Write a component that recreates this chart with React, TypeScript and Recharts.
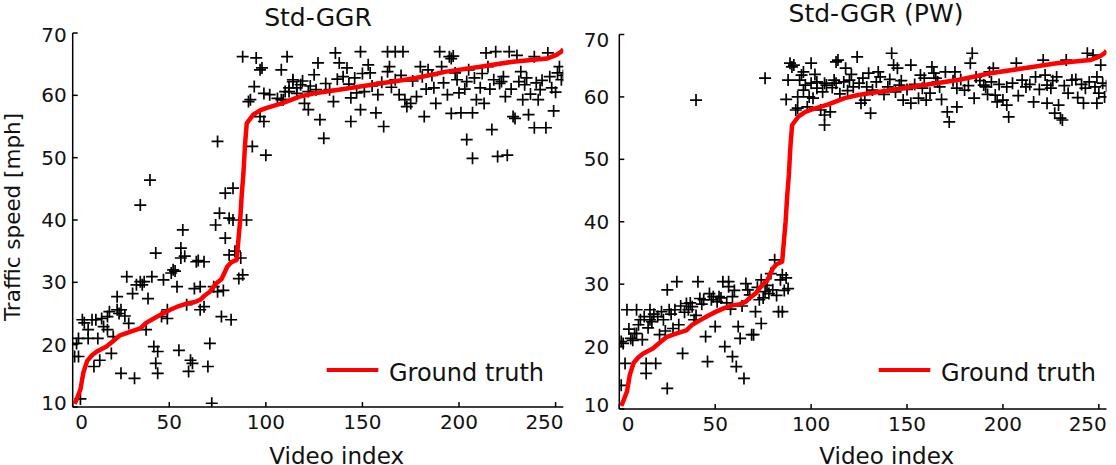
import React from 'react';
import { ComposedChart, Scatter, XAxis, YAxis, Legend, Label } from 'recharts';

// Axis setup shared by both panels
const X_TICKS = [0, 50, 100, 150, 200, 250];
const Y_TICKS = [10, 20, 30, 40, 50, 60, 70];
const X_DOMAIN: [number, number] = [0, 254];
const Y_DOMAIN: [number, number] = [10, 70];

// Sorted ground-truth speeds, [video index, mph]
const GROUND_TRUTH: [number, number][] = [
  [1, 10.5], [2, 11.2], [4, 12.8], [5.5, 15.5], [7.5, 17.4], [10, 18.3], [12.5, 18.9],
  [17.5, 19.7], [21, 20.6], [24.5, 21.5], [30, 22.1], [35, 22.6], [38, 23.5], [42, 24.2],
  [46, 24.9], [50.5, 25.6], [55, 26.2], [59, 26.6], [63, 26.8], [66, 27.2], [68, 27.8],
  [71, 28.5], [74.5, 29.9], [77, 30.5], [80, 32.5], [82, 33.2], [84.9, 33.6], [85.8, 36.8],
  [86.7, 40], [87.5, 44], [88.4, 47.5], [89.2, 52], [90.1, 55.5], [93.5, 56.9], [97, 57.6],
  [100.5, 58], [109, 58.8], [117.5, 59.8], [124.5, 60.3], [142, 61.1], [159, 61.9],
  [176.5, 62.7], [193.5, 63.8], [211, 64.6], [228, 65.4], [245.5, 65.9], [250.5, 66.5],
  [253, 67], [254, 67.4],
];

// Std-GGR estimates, [video index, mph]
const STD_GGR: [number, number][] = [
  [1, 18.1], [3, 18.1], [2, 20.2], [3, 21], [4, 11.3], [5, 24], [6, 23.5], [8, 21], [10, 24],
  [8, 22.4], [12, 24], [13, 21], [11, 16.5], [14, 17.5], [15, 24.2], [16, 22.9], [18, 22.4],
  [18, 24.5], [19, 25.3], [20, 18.6], [21, 21.3], [23, 27.7], [23, 25.6], [24, 25], [25, 25.6],
  [25, 15.4], [27, 24.6], [28, 30.9], [29, 23.4], [31, 28.2], [32, 14.6], [33, 29.6],
  [35, 30.1], [36, 29.6], [37, 30.1], [39, 27.4], [38, 22.4], [41, 30.9], [42, 19.7],
  [43, 34.7], [44, 18.9], [43, 17], [44, 15.4], [46, 24.5], [47, 30.4], [49, 25.6],
  [49, 24.2], [51, 31.5], [52, 32], [53, 31.8], [54, 29.3], [55, 19.1], [56, 35.5],
  [56, 33.9], [57, 38.4], [58, 34.2], [59, 26.4], [61, 17.5], [60, 15.7], [62, 17],
  [63, 29], [64, 33.3], [65, 33.5], [66, 25.6], [68, 33.3], [66, 29.3], [68, 26.1],
  [70, 16.5], [71, 20.2], [72, 10.6], [73, 29.3], [75, 28.5], [77, 24.5], [78, 28.7],
  [79, 37.1], [74, 39.2], [81, 34.4], [82, 24], [83, 40], [84, 35], [86, 30.6], [88, 31.2],
  [87, 33.9], [90, 40],
  [35, 42.4], [40, 46.4], [76, 41.1], [79, 44.3], [83, 45.1], [81, 40.3], [75, 52.6],
  [93, 51.8], [100, 50.4], [99, 55.8], [97, 56.6], [91, 59], [92, 59.3], [94, 61.4],
  [99, 60.3], [102, 60.1], [106, 59.5], [108, 59.3], [88, 66.2], [95, 66], [97, 64.1],
  [98, 64.4], [108, 64.1], [111, 66.2], [114, 62.2], [112, 60.6], [116, 61.2], [110, 60.6],
  [109, 59.3], [114, 62.5], [112, 61.2], [118, 61.7], [116, 60.3], [122, 60.6], [122, 57.7],
  [120, 58.7], [125, 63.3], [127, 65.2], [128, 56.1], [130, 53.1], [131, 61.9], [135, 59],
  [136, 66.8], [138, 65.2], [140, 63], [142, 64.4], [144, 55.8], [144, 59.6], [146, 62.8],
  [149, 67], [149, 57.7], [151, 60.6], [153, 64.9], [154, 63.6], [157, 57.2], [158, 60.1],
  [161, 55], [163, 63.8], [164, 64.6], [167, 62.5], [163, 67], [167, 67], [171, 67],
  [169, 60.1], [172, 59.3], [175, 58.7], [173, 58.2], [178, 59.8], [180, 64.6], [181, 63],
  [182, 56.6], [184, 64.1], [187, 61.2], [188, 58.7], [190, 67], [191, 64.6], [194, 60.1],
  [195, 66.2], [196, 65.9], [197, 66.3], [196, 57.1], [199, 62.5], [201, 57.2], [204, 52.9],
  [204, 62.2], [205, 64.1], [207, 49.9], [207, 57.2], [209, 59.3], [211, 61.2], [213, 58.7],
  [214, 66.8], [215, 64.6], [217, 54.5], [219, 67], [218, 62.5], [220, 50.2], [221, 61.9],
  [224, 59.8], [223, 63], [225, 50.4], [226, 67], [228, 56.6], [229, 56.3], [230, 66.4],
  [231, 62.2], [233, 59.3], [234, 61.7], [236, 56.9], [239, 54.8], [239, 66.2], [241, 59.3],
  [242, 60.9], [245, 54.8], [246, 66.8], [249, 57.5], [251, 63.6], [252, 64.6], [253, 62.5],
  [247, 63],
  [119, 62.3], [123, 61.5], [126, 60.9], [133, 60.9], [137, 62.6], [143, 61.8], [147, 60.4],
  [150, 63.5], [155, 61.5], [160, 62.1], [165, 61.3], [170, 63.2], [176, 62.3], [183, 61],
  [186, 63.2], [192, 62], [198, 63.6], [200, 60.4], [203, 61], [208, 62.8], [212, 63.5],
  [216, 61], [222, 62.2], [227, 61], [232, 63.8], [235, 62.8], [237, 60.2], [240, 62],
  [243, 62.4], [248, 61.2], [250, 60.5], [254, 63.2],
];

// Std-GGR (PW) estimates, [video index, mph]
const STD_GGR_PW: [number, number][] = [
  [1, 13.8], [1, 20.8], [2, 20.5], [3, 17.3], [4, 25.9], [5, 22.8], [6, 21.3], [7, 21],
  [9, 25.9], [8, 22.1], [9, 22.1], [10, 23.5], [11, 24.3], [12, 21.1], [13, 24.8], [14, 17.3],
  [14, 15.7], [15, 23], [16, 25.9], [16, 24.3], [17, 24], [18, 25.2], [19, 17.3], [20, 24.8],
  [21, 21.9], [22, 25.6], [23, 24.3], [24, 22.5], [25, 13.3], [25, 29.1], [26, 25.9],
  [27, 25.2], [28, 22.9], [29, 25.9], [30, 30.4], [31, 23.5], [32, 26.5], [33, 18.9],
  [34, 25.5], [35, 26.9], [36, 25.9], [37, 27], [38, 26.4], [39, 24.3], [40, 25], [41, 30.4],
  [42, 27.7], [43, 26.8], [44, 27.5], [45, 21.6], [46, 17.6], [47, 28.5], [48, 27.5],
  [49, 28], [50, 23.2], [51, 27.2], [52, 28], [53, 27.8], [54, 30.4], [55, 20], [56, 27],
  [57, 30.4], [57, 29.6], [58, 26], [59, 28], [59, 18.4], [60, 29], [61, 16.8], [62, 23.2],
  [63, 21.3], [64, 26.5], [65, 14.9], [66, 30.1], [67, 29.1], [68, 28.3], [69, 21.9],
  [70, 21.9], [71, 25.6], [72, 29.5], [73, 27.5], [74, 30.7], [74, 23.7], [75, 27.8],
  [76, 28.8], [77, 29.8], [78, 28.5], [79, 31.7], [80, 29.1], [81, 33.9], [82, 28.2],
  [83, 25.6], [85, 25.6], [84, 30.7], [85, 31.5], [86, 29], [87, 31], [88, 29.3],
  [40, 59.5], [76, 63], [89, 65.4], [90, 64.8], [91, 65.1], [96, 64], [100, 65.4], [88, 62.7],
  [94, 62.7], [97, 61.9], [100, 62.2], [103, 62.4], [107, 62.2], [108, 61.9], [113, 62.2],
  [113, 65.6], [87, 59.6], [93, 60], [99, 60], [93, 58.2], [92, 57.9], [98, 58.4],
  [105, 57.9], [110, 57.6], [107, 57.1], [107, 55.5], [103, 61.4], [96, 61.1], [101, 59.8],
  [114, 65.9], [118, 64.6], [124, 66.4], [112, 62.7], [117, 62.4], [120, 62.7], [122, 61.6],
  [127, 63], [129, 61.6], [126, 59], [131, 57.4], [128, 59.5], [135, 64], [136, 63.2],
  [132, 61.1], [140, 61.6], [142, 67], [143, 65.1], [145, 64.6], [146, 61.9], [148, 59.5],
  [152, 65.1], [152, 59], [156, 59.8], [157, 63.5], [159, 63], [160, 59.5], [163, 64.8],
  [164, 63.8], [165, 63], [167, 61.6], [170, 64], [171, 57.6], [172, 56], [176, 58.4],
  [175, 64], [176, 61.4], [180, 61.1], [183, 65.4], [184, 67], [186, 63.2], [185, 59.8],
  [190, 61.9], [191, 61.6], [193, 64], [195, 64.6], [196, 60.3], [197, 59.2], [200, 59.5],
  [202, 58.7], [203, 56.8], [202, 61.6], [207, 65.4], [210, 62.7], [212, 61.6], [216, 59.2],
  [217, 63.2], [221, 65.9], [223, 61.9], [223, 59], [225, 61.4], [228, 63.2], [229, 58.7],
  [227, 57.4], [230, 56.6], [231, 56.3], [233, 65.9], [234, 60.6], [236, 62.7], [239, 59.9],
  [242, 59], [243, 61.4], [244, 67], [247, 66.7], [249, 63.2], [249, 59], [250, 60.6],
  [251, 65.1], [252, 62.2], [253, 60],
  [95, 63.5], [102, 63.6], [106, 60.8], [111, 61.5], [115, 60.5], [119, 61], [121, 63.6],
  [125, 62.2], [130, 63.8], [134, 62.4], [138, 60.4], [141, 62.8], [144, 60.8], [147, 62.6],
  [150, 61.2], [154, 62], [158, 61.4], [162, 60.6], [166, 62.4], [168, 59.6], [174, 62.6],
  [178, 62.8], [182, 61.8], [188, 62.6], [192, 60.4], [194, 62.4], [198, 62], [205, 62.2],
  [208, 60.2], [214, 62], [219, 61.2], [222, 63.5], [226, 62.6], [232, 61.8], [238, 62.8],
  [241, 62], [245, 62.4], [248, 61.6], [254, 61.8],
];

const FONT = "'DejaVu Sans', sans-serif";
const INK = '#111';
const RED = '#ff0000';

const toPoints = (pairs: [number, number][]) => pairs.map(([x, y]) => ({ x, y }));
const TRUTH_POINTS = toPoints(GROUND_TRUTH);

// "+" marker for estimated speeds
function Plus(props: any) {
  const { cx, cy } = props;
  if (cx == null || cy == null) return <g />;
  return (
    <path
      d={`M${cx - 6},${cy}H${cx + 6}M${cx},${cy - 6}V${cy + 6}`}
      stroke="#000"
      strokeWidth={1.7}
      fill="none"
    />
  );
}

const NoDot = () => <g />;

const axisStroke = { stroke: '#000', strokeWidth: 1.5 };

// Bottom tick labels: the end labels are kept inside the axis span
function XTick(props: any) {
  const { x, y, payload } = props;
  const v = payload.value;
  let anchor: 'start' | 'middle' | 'end' = 'middle';
  let tx = x;
  if (v === X_TICKS[0]) {
    anchor = 'start';
    tx = x + 2.5;
  } else if (v === X_TICKS[X_TICKS.length - 1]) {
    anchor = 'end';
    tx = x + 8;
  }
  return (
    <text x={tx} y={y} dy="0.71em" textAnchor={anchor} fontFamily={FONT} fontSize={20} fill={INK}>
      {v}
    </text>
  );
}

// Left tick labels: the end labels are nudged inside the axis span
function makeYTick(topShift: number, bottomShift: number) {
  return function YTick(props: any) {
    const { x, y, payload } = props;
    const v = payload.value;
    let shift = 0;
    if (v === Y_TICKS[0]) shift = bottomShift;
    else if (v === Y_TICKS[Y_TICKS.length - 1]) shift = topShift;
    return (
      <text x={x} y={y + shift} dy="0.355em" textAnchor="end" fontFamily={FONT} fontSize={20} fill={INK}>
        {v}
      </text>
    );
  };
}

type PanelProps = {
  title: string;
  estimates: [number, number][];
  left: number;
  width: number;
  margin: { top: number; right: number; bottom: number; left: number };
  yAxisWidth: number;
  xAxisHeight: number;
  yTickMargin: number;
  yTopShift: number;
  yBottomShift: number;
  titleX: number;
  titleY: number;
  xLabelDx: number;
  legendLeft: number;
  showYLabel: boolean;
};

function LegendBox() {
  return (
    <svg width={240} height={40} style={{ display: 'block', overflow: 'visible' }}>
      <line x1={0.7} x2={52.3} y1={18} y2={18} stroke={RED} strokeWidth={4} />
      <text x={63} y={29} fontFamily={FONT} fontSize={24} fill={INK}>
        Ground truth
      </text>
    </svg>
  );
}

function Panel(p: PanelProps) {
  const points = toPoints(p.estimates);
  const YTick = makeYTick(p.yTopShift, p.yBottomShift);
  return (
    <div style={{ position: 'absolute', left: p.left, top: 0, width: p.width, height: 465 }}>
      <ComposedChart width={p.width} height={465} margin={p.margin}>
        <XAxis
          xAxisId="b"
          type="number"
          dataKey="x"
          domain={X_DOMAIN}
          ticks={X_TICKS}
          interval={0}
          allowDataOverflow
          height={p.xAxisHeight}
          tickSize={-5}
          tickMargin={13}
          tick={<XTick />}
          axisLine={axisStroke}
          tickLine={axisStroke}
        >
          <Label
            content={(lp: any) => {
              const vb = lp.viewBox || { x: 0, width: 0 };
              return (
                <text
                  x={vb.x + vb.width / 2 + p.xLabelDx}
                  y={463.5}
                  textAnchor="middle"
                  fontFamily={FONT}
                  fontSize={23}
                  fill={INK}
                >
                  Video index
                </text>
              );
            }}
          />
        </XAxis>
        <XAxis
          xAxisId="t"
          orientation="top"
          type="number"
          dataKey="x"
          domain={X_DOMAIN}
          ticks={X_TICKS}
          interval={0}
          allowDataOverflow
          height={0}
          tickSize={-5}
          tick={false}
          axisLine={axisStroke}
          tickLine={axisStroke}
        />
        <YAxis
          yAxisId="l"
          type="number"
          dataKey="y"
          domain={Y_DOMAIN}
          ticks={Y_TICKS}
          interval={0}
          allowDataOverflow
          width={p.yAxisWidth}
          tickSize={-5}
          tickMargin={p.yTickMargin}
          tick={<YTick />}
          axisLine={axisStroke}
          tickLine={axisStroke}
        >
          {p.showYLabel && (
            <Label
              content={(lp: any) => {
                const vb = lp.viewBox || { y: 0, height: 0 };
                const cy = vb.y + vb.height / 2 - 3;
                return (
                  <text
                    x={20}
                    y={cy}
                    transform={`rotate(-90, 20, ${cy})`}
                    textAnchor="middle"
                    fontFamily={FONT}
                    fontSize={21.5}
                    fill={INK}
                  >
                    Traffic speed [mph]
                  </text>
                );
              }}
            />
          )}
        </YAxis>
        <YAxis
          yAxisId="r"
          orientation="right"
          type="number"
          dataKey="y"
          domain={Y_DOMAIN}
          ticks={Y_TICKS}
          interval={0}
          allowDataOverflow
          width={0}
          tickSize={-5}
          tick={false}
          axisLine={axisStroke}
          tickLine={axisStroke}
        />
        <Scatter
          name="Estimate"
          xAxisId="b"
          yAxisId="l"
          data={points}
          shape={Plus}
          isAnimationActive={false}
        />
        <Scatter
          name="Ground truth"
          xAxisId="b"
          yAxisId="l"
          data={TRUTH_POINTS}
          line={{ stroke: RED, strokeWidth: 4.5, strokeLinejoin: 'round' }}
          shape={NoDot}
          isAnimationActive={false}
        />
        <Legend
          layout="vertical"
          align="center"
          verticalAlign="middle"
          content={() => <LegendBox />}
          wrapperStyle={{ left: p.legendLeft, top: 352, width: 240, height: 40 }}
        />
      </ComposedChart>
      {/* panel title */}
      <svg
        width={p.width}
        height={32}
        style={{ position: 'absolute', left: 0, top: 0, pointerEvents: 'none', overflow: 'visible' }}
      >
        <text x={p.titleX} y={p.titleY} textAnchor="middle" fontFamily={FONT} fontSize={25} fill={INK}>
          {p.title}
        </text>
      </svg>
    </div>
  );
}

export default function App() {
  return (
    <div
      style={{
        position: 'absolute',
        left: 0,
        top: 0,
        width: 1116,
        height: 465,
        background: '#fff',
        overflow: 'hidden',
      }}
    >
      <Panel
        title="Std-GGR"
        estimates={STD_GGR}
        left={0}
        width={575}
        margin={{ top: 33, right: 11.7, bottom: 0, left: 0 }}
        yAxisWidth={72.7}
        xAxisHeight={58}
        yTickMargin={11}
        yTopShift={2}
        yBottomShift={-4.5}
        titleX={318}
        titleY={26}
        xLabelDx={18.7}
        legendLeft={326}
        showYLabel
      />
      <Panel
        title="Std-GGR (PW)"
        estimates={STD_GGR_PW}
        left={546}
        width={570}
        margin={{ top: 34.5, right: 9.5, bottom: 0, left: 0 }}
        yAxisWidth={73.3}
        xAxisHeight={56}
        yTickMargin={15}
        yTopShift={5}
        yBottomShift={-4}
        titleX={330}
        titleY={22}
        xLabelDx={23.8}
        legendLeft={332.3}
        showYLabel={false}
      />
    </div>
  );
}
